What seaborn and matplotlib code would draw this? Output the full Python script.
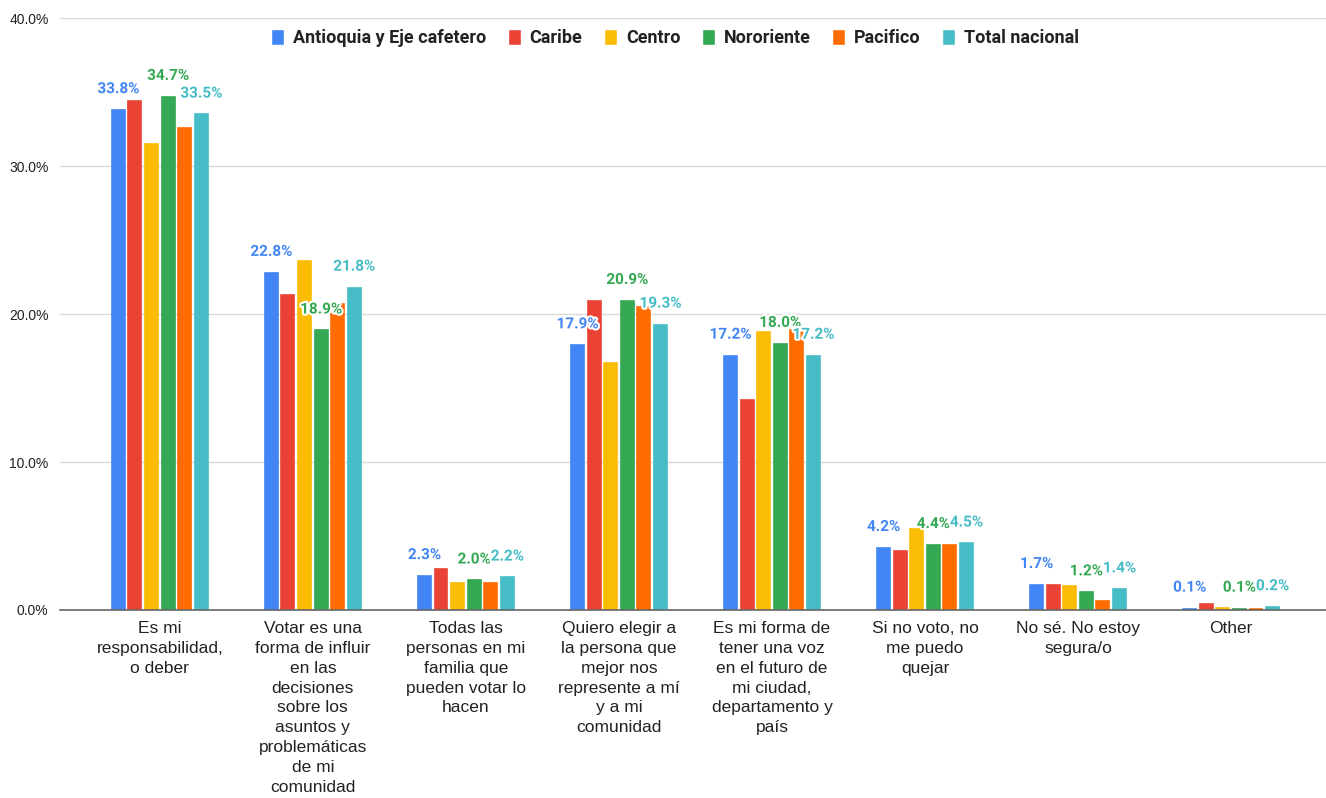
import pandas as pd
import seaborn as sns
import matplotlib.pyplot as plt
import matplotlib.patheffects as pe
from matplotlib.ticker import FuncFormatter

# Datos
categorias = [
    "Es mi\nresponsabilidad,\no deber",
    "Votar es una\nforma de influir\nen las\ndecisiones\nsobre los\nasuntos y\nproblemáticas\nde mi\ncomunidad",
    "Todas las\npersonas en mi\nfamilia que\npueden votar lo\nhacen",
    "Quiero elegir a\nla persona que\nmejor nos\nrepresente a mí\ny a mi\ncomunidad",
    "Es mi forma de\ntener una voz\nen el futuro de\nmi ciudad,\ndepartamento y\npaís",
    "Si no voto, no\nme puedo\nquejar",
    "No sé. No estoy\nsegura/o",
    "Other",
]
regiones = ["Antioquia y Eje cafetero", "Caribe", "Centro", "Nororiente", "Pacifico", "Total nacional"]

antioquia = [33.8, 22.8, 2.3, 17.9, 17.2, 4.2, 1.7, 0.1]
caribe = [34.4, 21.3, 2.8, 20.9, 14.2, 4.0, 1.7, 0.4]
centro = [31.5, 23.6, 1.8, 16.7, 18.8, 5.5, 1.6, 0.15]
nororiente = [34.7, 18.9, 2.0, 20.9, 18.0, 4.4, 1.2, 0.1]
pacifico = [32.6, 20.7, 1.8, 20.5, 18.9, 4.4, 0.6, 0.1]
total = [33.5, 21.8, 2.2, 19.3, 17.2, 4.5, 1.4, 0.2]

colores = ["#4285F4", "#EA4335", "#FBBC04", "#34A853", "#FF6D01", "#46BDC6"]

series = [antioquia, caribe, centro, nororiente, pacifico, total]
filas = []
for reg, vals in zip(regiones, series):
    for cat, v in zip(categorias, vals):
        filas.append({"categoria": cat, "region": reg, "valor": v})
df = pd.DataFrame(filas)

sns.set_style("white")
plt.rcParams["font.family"] = ["Liberation Sans", "DejaVu Sans"]

fig = plt.figure(figsize=(13.26, 7.98), dpi=100)
ax = fig.add_axes([0.045, 0.2356, 0.955, 0.7414])

sns.barplot(data=df, x="categoria", y="valor", hue="region", palette=colores,
            width=0.65, gap=0.22, ax=ax, saturation=1)

# borde del mismo color para que las barras pequeñas se vean
for cont, c in zip(ax.containers, colores):
    for b in cont:
        b.set_edgecolor(c)
        b.set_linewidth(1.2)

# Etiquetas solo en algunas series
etiquetadas = [0, 3, 5]
for i in etiquetadas:
    cont = ax.containers[i]
    textos = ax.bar_label(cont, labels=[f"{v:.1f}%" for v in series[i]],
                          padding=10, fontsize=11, fontweight="bold",
                          color=colores[i], family="Roboto")
    for t in textos:
        t.set_path_effects([pe.withStroke(linewidth=3, foreground="white")])

ax.set_ylim(0, 40)
ax.set_xlim(-0.654, 7.62)
ax.set_yticks([0, 10, 20, 30, 40])
ax.yaxis.set_major_formatter(FuncFormatter(lambda v, p: f"{v:.1f}%"))
ax.tick_params(axis="y", labelsize=10, colors="#222222", length=0, pad=8)
ax.tick_params(axis="x", labelsize=12.5, colors="#222222", length=0, pad=8)
for t in ax.get_xticklabels():
    t.set_linespacing(1.4)
ax.grid(axis="y", color="#d9d9d9", linewidth=1)
ax.set_axisbelow(True)
for s in ["top", "right", "left"]:
    ax.spines[s].set_visible(False)
ax.spines["bottom"].set_color("#666666")
ax.spines["bottom"].set_linewidth(1.2)
ax.set_xlabel("")
ax.set_ylabel("")

leg = ax.legend(loc="upper center", bbox_to_anchor=(0.486, 1.01), ncol=6, frameon=False,
                handlelength=0.7, handleheight=1.0, handletextpad=0.5, columnspacing=1.2,
                prop={"family": "Roboto", "weight": "bold", "size": 13})
for t in leg.get_texts():
    t.set_color("#222222")

plt.savefig("out.png", dpi=100)
